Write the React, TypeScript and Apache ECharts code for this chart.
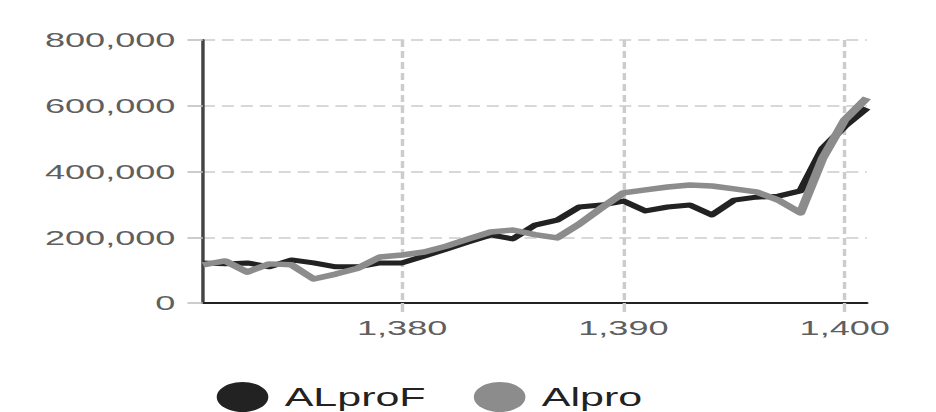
import React, { useEffect, useRef } from "react";
import * as echarts from "echarts";

const years = [
  1371, 1372, 1373, 1374, 1375, 1376, 1377, 1378, 1379, 1380, 1381, 1382, 1383, 1384, 1385, 1386,
  1387, 1388, 1389, 1390, 1391, 1392, 1393, 1394, 1395, 1396, 1397, 1398, 1399, 1400, 1401,
];
const alproF = [
  122000, 119000, 122000, 110000, 131000, 122000, 110000, 110000, 122000, 122000, 143000, 164000,
  186000, 207000, 195000, 237000, 252000, 292000, 298000, 310000, 280000, 292000, 298000, 268000,
  313000, 322000, 325000, 341000, 470000, 538000, 593000,
];
const alpro = [
  116000, 128000, 94000, 119000, 116000, 73000, 88000, 106000, 140000, 146000, 155000, 173000,
  195000, 216000, 222000, 208000, 198000, 240000, 289000, 335000, 344000, 353000, 359000, 356000,
  347000, 338000, 313000, 274000, 440000, 557000, 624000,
];
const xTicks = [1380, 1390, 1400];
const seriesNames = ["ALproF", "Alpro"];

const SX = 1.72;
const W = Math.round(936 / SX);
const FONT = "'Liberation Sans', Arial, sans-serif";

export default function App() {
  const ref = useRef<HTMLDivElement>(null);
  useEffect(() => {
    if (!ref.current) return;
    const chart = echarts.init(ref.current, undefined, { renderer: "svg" });
    const fmt = (v: number) => Number(v).toLocaleString("en-US");
    chart.setOption({
      animation: false,
      backgroundColor: "#ffffff",
      textStyle: { fontFamily: FONT },
      grid: { left: 118, right: 40, top: 40, bottom: 109, containLabel: false },
      legend: {
        left: 121,
        top: 377,
        icon: "circle",
        itemWidth: 31,
        itemHeight: 30,
        itemGap: 28,
        textStyle: { fontSize: 25, color: "#222", fontFamily: FONT, padding: [0, 0, 0, 4] },
        data: seriesNames,
      },
      xAxis: {
        type: "value",
        min: 1371,
        max: 1401,
        axisLine: { show: true, lineStyle: { color: "#222", width: 2 } },
        axisTick: {
          show: true,
          customValues: xTicks,
          length: 9,
          lineStyle: { color: "#ccc", width: 2 },
        },
        axisLabel: {
          customValues: xTicks,
          formatter: fmt,
          fontSize: 21,
          color: "#5f5f5f",
          margin: 14,
          fontFamily: FONT,
        },
        splitLine: { show: true, lineStyle: { color: "#ccc", width: 2, type: [7, 4] } },
      },
      yAxis: {
        type: "value",
        min: 0,
        max: 800000,
        interval: 200000,
        axisLine: { show: true, lineStyle: { color: "#444", width: 2 } },
        axisTick: { show: true, length: 9, lineStyle: { color: "#bbb", width: 1.5 } },
        axisLabel: { formatter: fmt, fontSize: 21, color: "#5f5f5f", margin: 16, fontFamily: FONT },
        splitLine: { show: true, lineStyle: { color: "#ccc", width: 1.5, type: [7, 4] } },
      },
      series: [
        {
          name: seriesNames[0],
          type: "line",
          data: years.map((y, i) => [y, alproF[i]]),
          showSymbol: false,
          symbol: "none",
          lineStyle: { color: "#222", width: 5, join: "round" },
          itemStyle: { color: "#222" },
        },
        {
          name: seriesNames[1],
          type: "line",
          data: years.map((y, i) => [y, alpro[i]]),
          showSymbol: false,
          symbol: "none",
          lineStyle: { color: "#8c8c8c", width: 5.5, join: "round" },
          itemStyle: { color: "#8c8c8c" },
        },
      ],
    });
    return () => chart.dispose();
  }, []);
  return (
    <div
      style={{
        position: "fixed",
        left: 0,
        top: 0,
        width: 936,
        height: 412,
        overflow: "hidden",
        background: "#fff",
      }}
    >
      <div
        ref={ref}
        style={{ width: W, height: 412, transform: `scaleX(${SX})`, transformOrigin: "0 0" }}
      />
    </div>
  );
}
